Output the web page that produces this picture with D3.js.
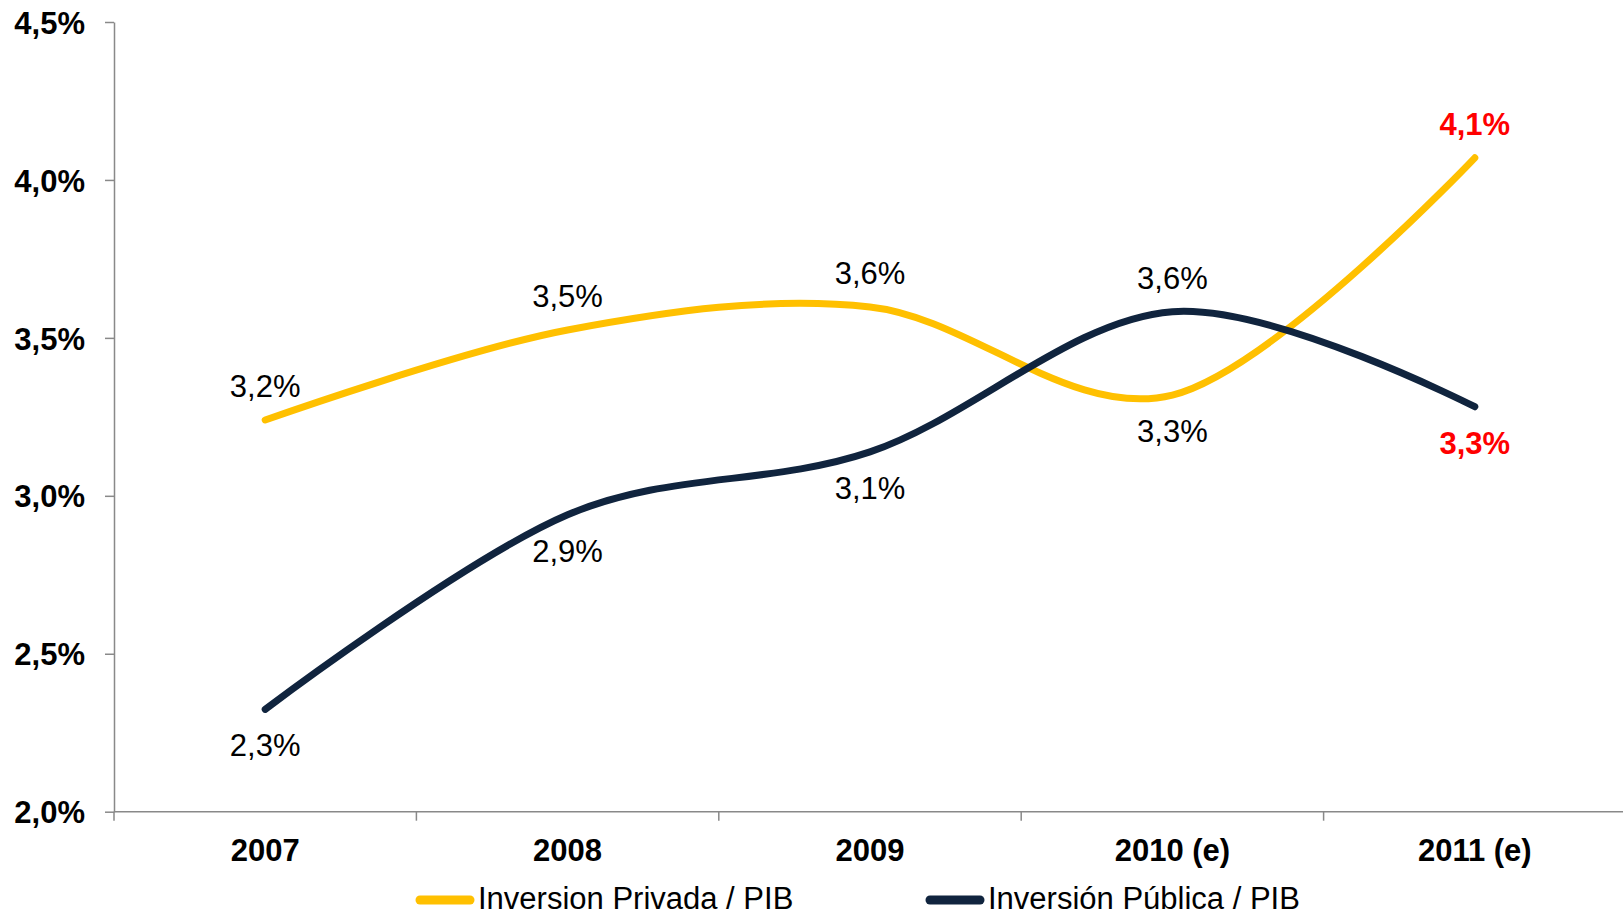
<!DOCTYPE html>
<html lang="es">
<head>
    <meta charset="UTF-8">
    <title>Inversión / PIB</title>
    <style>
        body { margin: 0; background: #fff; }
        text { font-family: "Liberation Sans", Arial, sans-serif; }
        .axis path, .axis line { stroke: #898989; stroke-width: 1.5px; }
        .axis text { font-size: 31px; font-weight: bold; fill: #000; }
        .lbl { font-size: 31px; fill: #000; }
        .lbl.last { fill: #ff0000; font-weight: bold; }
        .legend text { font-size: 31px; fill: #000; }
    </style>
</head>
<body>
<svg id="chart"></svg>
<script src="https://cdnjs.cloudflare.com/ajax/libs/d3/7.8.5/d3.min.js"></script>
<script>
    var width = 1623;
    var height = 916;

    // data
    var years = ["2007", "2008", "2009", "2010 (e)", "2011 (e)"];
    var privada = [3.24, 3.525, 3.598, 3.319, 4.07];
    var publica = [2.324, 2.94, 3.139, 3.583, 3.282];
    var yTicks = [2.0, 2.5, 3.0, 3.5, 4.0, 4.5];
    // which side of the point each value label goes
    var privadaSide = ["up", "up", "up", "down", "up"];
    var publicaSide = ["down", "down", "down", "up", "down"];

    var series = [
        {name: "Inversion Privada / PIB", values: privada, side: privadaSide, color: "#ffc000"},
        {name: "Inversión Pública / PIB", values: publica, side: publicaSide, color: "#10243e"}
    ];

    var es = d3.formatLocale({decimal: ",", thousands: ".", grouping: [3], currency: ["", "€"]});
    var pct = es.format(".1f");

    var plotLeft = 114, plotTop = 22, plotBottom = 811.7;

    var x = d3.scaleBand().domain(years).range([plotLeft, plotLeft + 5 * 302.4]);
    var y = d3.scaleLinear().domain([2, 4.5]).range([plotBottom, plotTop]);

    var svg = d3.select("#chart").attr("width", width).attr("height", height);

    // y axis
    svg.append("g")
        .attr("class", "axis")
        .attr("transform", "translate(" + plotLeft + ",0)")
        .call(d3.axisLeft(y).tickValues(yTicks).tickSize(9).tickSizeOuter(0).tickPadding(20)
            .tickFormat(function(d) { return pct(d) + "%"; }))
        .call(function(g) { g.selectAll("text").attr("dy", "0.36em"); });

    // x axis: labels at centers, ticks at band edges
    var xg = svg.append("g")
        .attr("class", "axis")
        .attr("transform", "translate(0," + plotBottom + ")");
    xg.append("line")
        .attr("x1", plotLeft).attr("x2", width)
        .attr("y1", 0).attr("y2", 0);
    xg.selectAll("line.tk")
        .data(years)
        .join("line")
        .attr("class", "tk")
        .attr("x1", function(d) { return x(d); })
        .attr("x2", function(d) { return x(d); })
        .attr("y1", 0).attr("y2", 9);
    xg.selectAll("text")
        .data(years)
        .join("text")
        .attr("x", function(d) { return x(d) + x.bandwidth() / 2; })
        .attr("y", 49)
        .attr("text-anchor", "middle")
        .text(function(d) { return d; });

    var cx = function(i) { return x(years[i]) + x.bandwidth() / 2; };

    var line = d3.line()
        .x(function(d, i) { return cx(i); })
        .y(function(d) { return y(d); })
        .curve(d3.curveCardinal.tension(0));

    series.forEach(function(s) {
        svg.append("path")
            .datum(s.values)
            .attr("fill", "none")
            .attr("stroke", s.color)
            .attr("stroke-width", 7)
            .attr("stroke-linecap", "round")
            .attr("d", line);
    });

    // value labels
    series.forEach(function(s) {
        svg.append("g").selectAll("text")
            .data(s.values)
            .join("text")
            .attr("class", function(d, i) { return i === years.length - 1 ? "lbl last" : "lbl"; })
            .attr("x", function(d, i) { return cx(i); })
            .attr("y", function(d, i) { return y(d) + (s.side[i] === "up" ? -23 : 47); })
            .attr("text-anchor", "middle")
            .text(function(d) { return pct(d) + "%"; });
    });

    // legend
    var legendX = [420, 930];
    var lg = svg.append("g").attr("class", "legend");
    series.forEach(function(s, i) {
        var g = lg.append("g").attr("transform", "translate(" + legendX[i] + ",900)");
        g.append("line")
            .attr("x1", 0).attr("x2", 50)
            .attr("stroke", s.color)
            .attr("stroke-width", 9)
            .attr("stroke-linecap", "round");
        g.append("text")
            .attr("x", 58)
            .attr("y", 9)
            .text(s.name);
    });
</script>
</body>
</html>
